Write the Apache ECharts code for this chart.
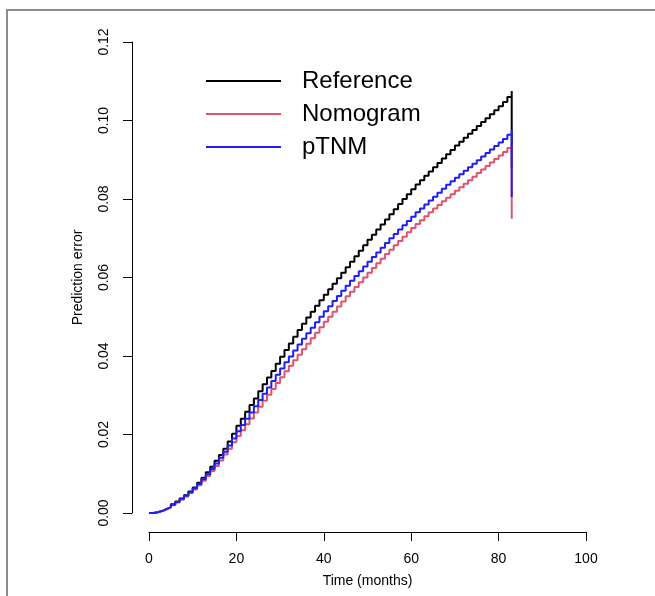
<!DOCTYPE html>
<html>
<head>
<meta charset="utf-8">
<script src="https://cdn.jsdelivr.net/npm/echarts@6/dist/echarts.min.js"></script>
<style>
html,body{margin:0;padding:0;background:#fff;}
#frame{position:absolute;left:6px;top:9px;width:700px;height:700px;border-top:2px solid #8c8c8c;border-left:2px solid #8c8c8c;}
#chart{position:absolute;left:0;top:0;width:655px;height:596px;}
</style>
</head>
<body>
<div id="frame"></div>
<div id="chart"></div>
<script>
const months = [];
for (let i = 0; i <= 83; i++) months.push(i);

const reference = [0,0.0002,0.0005,0.001,0.0015,0.0022,0.0029,0.0037,0.0045,0.0055,
0.0065,0.0077,0.009,0.0104,0.0118,0.0133,0.0148,0.0164,0.0182,0.0202,
0.0222,0.024,0.0258,0.0275,0.0292,0.031,0.0328,0.0345,0.0362,0.038,
0.0398,0.0415,0.0432,0.0449,0.0466,0.0482,0.0498,0.0513,0.0528,0.0542,
0.0556,0.057,0.0584,0.0598,0.0612,0.0626,0.064,0.0654,0.0668,0.0682,
0.0696,0.0709,0.0722,0.0735,0.0748,0.0761,0.0774,0.0787,0.08,0.0812,
0.0825,0.0837,0.0848,0.0859,0.087,0.0881,0.0892,0.0903,0.0914,0.0925,
0.0936,0.0946,0.0956,0.0966,0.0976,0.0986,0.0996,0.1006,0.1016,0.1026,
0.1036,0.1047,0.106,0.1075];

const nomogram = [0,0.0002,0.0005,0.0009,0.0014,0.002,0.0027,0.0034,0.0042,0.0051,
0.006,0.0071,0.0082,0.0094,0.0107,0.012,0.0134,0.0149,0.0164,0.018,
0.0196,0.0211,0.0226,0.0241,0.0256,0.0271,0.0286,0.0301,0.0316,0.0331,
0.0346,0.0361,0.0375,0.0389,0.0403,0.0417,0.0431,0.0445,0.0459,0.0473,
0.0487,0.05,0.0513,0.0526,0.0539,0.0552,0.0564,0.0576,0.0588,0.06,
0.0612,0.0624,0.0636,0.0648,0.066,0.0671,0.0682,0.0693,0.0704,0.0715,
0.0726,0.0736,0.0746,0.0756,0.0766,0.0776,0.0785,0.0794,0.0803,0.0812,
0.0821,0.083,0.0839,0.0848,0.0857,0.0866,0.0875,0.0884,0.0893,0.0902,
0.0911,0.092,0.093,0.0942];

const ptnm = [0,0.0002,0.0005,0.001,0.0015,0.0021,0.0028,0.0036,0.0044,0.0053,
0.0063,0.0074,0.0086,0.0099,0.0112,0.0126,0.0141,0.0156,0.0172,0.019,
0.0208,0.0224,0.024,0.0256,0.0272,0.0288,0.0304,0.032,0.0336,0.0352,
0.0368,0.0384,0.0399,0.0414,0.0429,0.0444,0.0458,0.0472,0.0486,0.05,
0.0514,0.0527,0.054,0.0553,0.0566,0.0579,0.0592,0.0604,0.0616,0.0628,
0.064,0.0652,0.0664,0.0676,0.0688,0.07,0.0711,0.0722,0.0733,0.0744,
0.0755,0.0766,0.0776,0.0786,0.0796,0.0806,0.0816,0.0826,0.0836,0.0845,
0.0854,0.0863,0.0872,0.0881,0.089,0.0899,0.0908,0.0917,0.0926,0.0935,
0.0944,0.0953,0.0964,0.0977];

// final drop at last time point
const endTime = 83;
const endValues = { Reference: 0.088, Nomogram: 0.075, pTNM: 0.0805 };

const xTicks = [0, 20, 40, 60, 80, 100];
const yTicks = [0, 0.02, 0.04, 0.06, 0.08, 0.10, 0.12];

function build(vals, name) {
  const d = months.map((t, i) => [t, vals[i]]);
  d.push([endTime, endValues[name]]);
  return d;
}

const FONT = 'Liberation Sans, Arial, Helvetica, sans-serif';
const LINE_ICON = 'path://M0,0 L75,0 L75,2 L0,2 Z';
const chart = echarts.init(document.getElementById('chart'), null, {renderer: 'canvas'});
chart.setOption({
  animation: false,
  backgroundColor: 'transparent',
  grid: { left: 149, right: 69, top: 42, bottom: 83, containLabel: false },
  xAxis: {
    type: 'value', min: xTicks[0], max: xTicks[xTicks.length - 1], interval: 20,
    offset: 19,
    name: 'Time (months)', nameLocation: 'middle', nameGap: 42,
    nameTextStyle: { fontFamily: FONT, fontSize: 14, color: '#000' },
    axisLine: { show: true, onZero: false, lineStyle: { color: '#000', width: 1 } },
    axisTick: { show: true, length: 9, lineStyle: { color: '#000' } },
    axisLabel: { fontFamily: FONT, fontSize: 14, color: '#000', margin: 20 },
    splitLine: { show: false }
  },
  yAxis: {
    type: 'value', min: yTicks[0], max: yTicks[yTicks.length - 1], interval: 0.02,
    offset: 17,
    name: 'Prediction error', nameLocation: 'middle', nameGap: 47, nameRotate: 90,
    nameTextStyle: { fontFamily: FONT, fontSize: 14, color: '#000' },
    axisLine: { show: true, onZero: false, lineStyle: { color: '#000', width: 1 } },
    axisTick: { show: true, length: 9, lineStyle: { color: '#000' } },
    axisLabel: { fontFamily: FONT, fontSize: 14, color: '#000', margin: 21, rotate: 90,
      formatter: v => v.toFixed(2) },
    splitLine: { show: false }
  },
  legend: {
    orient: 'vertical', left: 206, top: 69, padding: 0,
    itemWidth: 75, itemHeight: 2, itemGap: 9,
    icon: LINE_ICON,
    textStyle: { fontFamily: FONT, fontSize: 24, color: '#000', padding: [0, 0, 0, 16] },
    data: ['Reference', 'Nomogram', 'pTNM']
  },
  series: [
    { name: 'Reference', type: 'line', step: 'end', symbol: 'none', data: build(reference, 'Reference'),
      lineStyle: { color: '#000000', width: 2 }, itemStyle: { color: '#000000' }, z: 2 },
    { name: 'Nomogram', type: 'line', step: 'end', symbol: 'none', data: build(nomogram, 'Nomogram'),
      lineStyle: { color: '#DF536B', width: 2 }, itemStyle: { color: '#DF536B' }, z: 3 },
    { name: 'pTNM', type: 'line', step: 'end', symbol: 'none', data: build(ptnm, 'pTNM'),
      lineStyle: { color: '#1F1FF5', width: 2 }, itemStyle: { color: '#1F1FF5' }, z: 4 }
  ]
});
</script>
</body>
</html>
